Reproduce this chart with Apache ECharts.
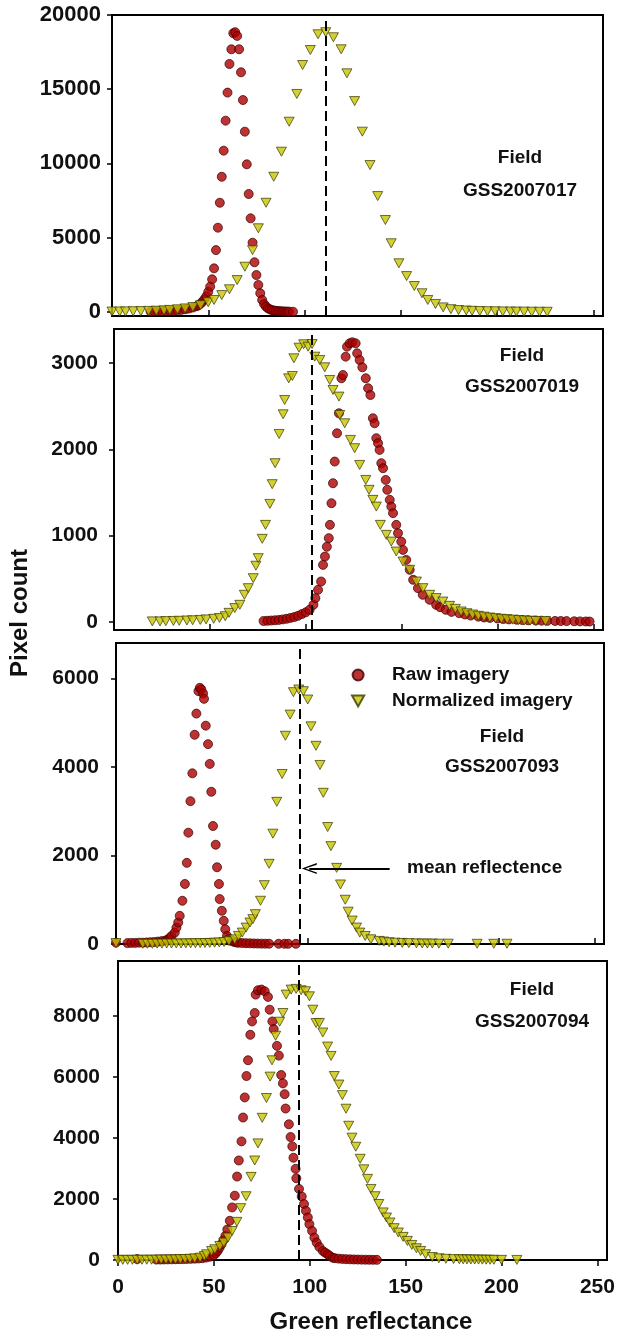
<!DOCTYPE html>
<html><head><meta charset="utf-8">
<script src="https://cdn.jsdelivr.net/npm/echarts@6/dist/echarts.min.js"></script>
<style>html,body{margin:0;padding:0;background:#fff}#c{width:617px;height:1336px}</style>
</head><body><div id="c"></div>
<script>
// ---------------- DATA ----------------
const fieldNames = ['GSS2007017', 'GSS2007019', 'GSS2007093', 'GSS2007094'];
const meanReflectance = [111.2, 103.2, 95.8, 94.2];
const yMins = [-280, -95, 0, 0];
const yMaxs = [20000, 3395, 6800, 9800];
const yTickValues = [[0, 5000, 10000, 15000, 20000], [0, 1000, 2000, 3000], [0, 2000, 4000, 6000], [0, 2000, 4000, 6000, 8000]];
const xTickValues = [0, 50, 100, 150, 200, 250];
const arrowY = 1705;
const arrowFromX = 143;
const arrowToX = 101;

const raw17 = [[20,30],[22,35],[24,40],[26,45],[28,55],[30,65],[32,80],[34,100],[36,130],[38,170],[40,220],[42,290],[44,380],[45,450],[46,550],[47,680],[48,850],[49,1050],[50,1350],[51,1700],[52,2190],[53,2930],[54,4160],[55,5670],[56,7350],[57,9100],[58,10860],[59,12880],[60,14770],[61,16700],[62,17690],[63,18770],[64,18840],[65,18590],[66,17690],[67,16140],[68,14270],[69,12140],[70,9940],[71,7940],[72,6300],[73,4660],[74,3340],[75,2480],[76,1810],[77,1250],[78,800],[79,520],[80,350],[81,240],[82,170],[83,120],[84,90],[85,70],[86,55],[87,45],[88,35],[89,28],[90,22],[91,16],[92,12],[94,8]];
const norm17 = [[0,20],[4,25],[7,30],[11,40],[15,50],[19,65],[23,80],[27,100],[30,130],[34,170],[38,230],[42,320],[46,450],[50,650],[53,800],[57,1130],[61,1520],[65,2140],[69,3040],[73,4160],[76,5630],[80,7350],[84,9100],[88,10790],[92,12810],[96,14680],[99,16630],[103,17640],[107,18700],[111,18840],[115,18500],[119,17690],[122,16070],[126,14200],[130,12140],[134,9890],[138,7800],[142,6190],[145,4620],[149,3270],[153,2410],[157,1740],[161,1250],[164,800],[168,530],[172,300],[176,180],[180,120],[184,90],[187,70],[191,55],[195,45],[199,35],[203,28],[207,22],[210,18],[214,14],[218,10],[222,8],[226,5]];

const raw19 = [[78,10],[80,12],[82,15],[84,18],[86,22],[88,28],[90,35],[92,45],[94,55],[96,70],[98,90],[100,110],[102,139],[104,197],[105,274],[106.4,371],[108,467],[109,660],[110,757],[111,870],[112,970],[112.6,1124],[113.4,1375],[114.2,1607],[115.1,1858],[116.3,2186],[117.3,2418],[118.6,2824],[119.4,2862],[120.8,3074],[121.5,3190],[122.9,3229],[124.3,3241],[126,3229],[126.8,3113],[128.1,3036],[129.5,2951],[131.3,2824],[132.5,2708],[133.7,2630],[135,2360],[135.9,2302],[136.8,2129],[137.7,2071],[138.5,1993],[139.4,1839],[140.3,1781],[141.7,1645],[142.5,1530],[143.8,1414],[144.6,1336],[145.5,1260],[147.2,1124],[148.1,1028],[149.8,930],[150.7,834],[152.4,718],[154.2,603],[156,487],[158.5,390],[161,313],[164.6,255],[168,197],[170,170],[173,139],[176,115],[180,100],[183,85],[186,72],[190,60],[193,50],[196,45],[200,38],[203,32],[206,28],[210,24],[213,20],[216,18],[220,15],[223,13],[226,11],[230,10],[233,9],[236,8],[240,6],[243,5],[246,4],[248,3]];
const norm19 = [[20,5],[24,5],[27,8],[31,10],[34,12],[38,15],[41,18],[45,22],[48,28],[52,35],[55,45],[58,65],[60,104],[63,159],[65.6,197],[68,313],[70,390],[72.6,506],[74,650],[75.2,738],[77.3,962],[79,1124],[81.3,1367],[82.5,1596],[84,1839],[86.1,2178],[88.2,2406],[89,2572],[91.1,2823],[93,2850],[93.8,3055],[96.5,3178],[98.9,3218],[101.2,3190],[103.3,3221],[104.7,3074],[107.3,3036],[109.9,2951],[112.5,2804],[114.2,2688],[117.3,2611],[117.7,2399],[120.3,2302],[123.3,2109],[125.5,2013],[128.1,1819],[131.3,1645],[133,1530],[135,1414],[136.8,1336],[138.9,1124],[142,1008],[144.6,930],[147.2,815],[150.7,699],[154.2,603],[157.7,467],[161.1,390],[164.6,313],[168,275],[171.5,235],[175,185],[178,150],[181,120],[184,100],[187,85],[190,70],[193,60],[196,50],[199,42],[202,35],[205,30],[208,25],[211,20],[214,16],[217,13],[220,10],[225,8]];

const raw93 = [[0,30],[6,20],[8,25],[10,25],[12,30],[14,30],[16,35],[18,40],[20,45],[22,55],[24,65],[26,80],[27,100],[28,130],[29,180],[30.7,258],[31.6,371],[32.5,485],[33.3,636],[34.7,977],[36,1356],[37,1833],[37.8,2515],[38.9,3227],[39.9,3856],[41.1,4727],[42,5205],[43.1,5712],[43.8,5788],[44.6,5750],[45.5,5659],[46,5538],[46.9,4932],[48.1,4515],[49,4068],[49.8,3439],[50.7,2666],[52.1,2243],[52.8,1734],[53.8,1356],[54.2,1015],[55.3,750],[56.3,523],[57.1,333],[58,182],[59,120],[60,80],[61,60],[62,45],[63,35],[64,28],[66,22],[68,18],[70,15],[72,12],[74,10],[76,8],[78,7],[80,6],[85,5],[88,5],[90,4],[94,4]];
const norm93 = [[0,20],[14,5],[16.5,5],[19,5],[21.5,8],[24,8],[26.5,10],[29,10],[31.5,12],[34,12],[36.5,15],[39,15],[41.5,18],[44,20],[46.5,22],[49,25],[51.5,30],[54,35],[56.5,45],[59,65],[62,106],[64,182],[66,258],[68,371],[70,485],[71.5,561],[72.8,674],[75.5,977],[77.5,1330],[80,1811],[82,2492],[84,3212],[86.8,3841],[88.5,4705],[91,5182],[92.7,5689],[95.5,5750],[97.9,5712],[100.2,5523],[101.9,4917],[104.5,4477],[106.6,4045],[108.3,3416],[110.6,2643],[112.3,2211],[115.3,1720],[117.3,1345],[119.8,1000],[121.3,730],[123.4,530],[125.7,371],[127.4,258],[130.2,182],[133.2,106],[137.5,70],[140,55],[142.7,40],[145.8,30],[149.6,25],[153,20],[157,15],[160,12],[162.7,10],[165.3,10],[168.7,8],[173.6,8],[188.7,5],[197.4,5],[204.3,5]];

const raw94 = [[10,30],[20,15],[22,15],[24,18],[26,20],[28,22],[30,25],[32,28],[34,30],[36,35],[38,40],[40,45],[42,50],[44,60],[46,80],[48,110],[50,160],[51,220],[52,300],[53,405],[54,520],[55,650],[56,790],[57,1000],[58.3,1285],[59.5,1723],[60.9,2109],[62.1,2735],[63,3262],[64.4,3888],[65.2,4669],[66.1,5328],[67,6030],[67.8,6547],[69,7381],[69.9,7820],[71.3,8095],[71.8,8698],[73,8841],[74.8,8863],[76.5,8808],[78.2,8623],[79.1,8204],[80.5,7820],[81.2,7568],[82.9,7018],[83.9,6699],[85.1,6063],[86,5789],[86.9,5436],[87.4,4965],[89.1,4448],[90,4030],[90.9,3723],[91.5,3351],[92.6,2988],[93,2679],[94.4,2329],[95.8,2080],[97,1835],[98,1614],[99,1394],[99.8,1176],[101.2,955],[102.4,735],[103.6,570],[105,428],[106.8,297],[108,240],[109.3,188],[110.5,130],[111.9,76],[113,60],[115,45],[117,35],[119,28],[121,22],[123,18],[125,15],[127,12],[129,10],[131,8],[133,6],[135,5]];
const norm94 = [[0,5],[2.5,5],[5,6],[7.5,6],[10,8],[12.5,8],[15,10],[17.5,10],[20,12],[22.5,14],[25,16],[27.5,18],[30,22],[32.5,26],[35,32],[37.5,40],[40,52],[42.8,76],[45,130],[46.2,188],[48.8,297],[50.5,352],[53.1,461],[55.2,570],[57.4,735],[59.5,950],[62,1250],[64,1700],[66.8,2090],[69.4,2725],[71.3,3262],[73,3822],[75.2,4660],[77.4,5310],[79.3,6010],[80.3,6545],[82.2,7348],[84.3,7810],[86,8095],[87.7,8698],[90.3,8863],[92.9,8886],[95.5,8841],[97.8,8808],[99.8,8643],[101.6,8204],[103.3,7766],[105,7770],[106.8,7457],[109.3,6996],[111.1,6689],[112.8,6030],[115.2,5750],[117,5404],[118.9,4958],[120.3,4400],[122,4010],[124,3712],[126.3,3318],[128.2,2972],[130.1,2659],[131.9,2329],[134.1,2090],[136,1835],[138.3,1559],[140,1394],[141.8,1229],[144,1044],[146.2,900],[148.7,758],[150.9,626],[153.2,494],[155.6,385],[157.8,297],[160.4,188],[163.9,99],[167.3,56],[171,40],[175,30],[178,25],[180,22],[182,20],[184,18],[186,16],[188,14],[190,12],[192,10],[194,8],[196,7],[200,5],[208,3]];

const rawSeries = [raw17, raw19, raw93, raw94];
const normSeries = [norm17, norm19, norm93, norm94];

// ---------------- LAYOUT / STYLE ----------------
const FONT = '"Liberation Sans", Arial, sans-serif';
const TXT = '#111111';
const TRI = 'path://M0,0L10,0L5,9Z';
const CHEVRON = 'path://M5.5,0L11,15L9.4,15L5.5,3.6L1.6,15L0,15Z';
const grids = [
  { left: 112, top: 15, width: 491, height: 301 },
  { left: 114, top: 329, width: 489, height: 301 },
  { left: 116, top: 643, width: 488, height: 301 },
  { left: 118, top: 961, width: 489, height: 299 }
];
const yLabelSize = [22, 21, 21, 21];
const yLabelMargin = [11, 16, 17, 18];

const rawStyle = { color: '#ad0000', borderColor: '#3a0000', borderWidth: 0.9 };
const normStyle = { color: '#c8c400', borderColor: '#383800', borderWidth: 0.9 };

const option = {
  animation: false,
  backgroundColor: '#ffffff',
  grid: grids.map(g => Object.assign({ show: true, borderColor: '#000', borderWidth: 2, outerBoundsMode: 'none', containLabel: false }, g)),
  xAxis: grids.map((g, i) => ({
    gridIndex: i, type: 'value', min: 0, max: 255,
    axisLine: { show: true, onZero: false, lineStyle: { color: '#000', width: 2 } },
    axisTick: { show: true, inside: i < 3, length: 6, customValues: xTickValues, lineStyle: { color: '#000', width: 1.5 } },
    axisLabel: { show: i === 3, customValues: xTickValues, formatter: v => String(v), margin: 17, fontFamily: FONT, fontWeight: 'bold', fontSize: 21, color: TXT },
    splitLine: { show: false }
  })),
  yAxis: grids.map((g, i) => ({
    gridIndex: i, type: 'value', min: yMins[i], max: yMaxs[i],
    axisLine: { show: true, onZero: false, lineStyle: { color: '#000', width: 2 } },
    axisTick: { show: true, inside: false, length: 5, customValues: yTickValues[i], lineStyle: { color: '#000', width: 1.5 } },
    axisLabel: { customValues: yTickValues[i], formatter: v => String(v), margin: yLabelMargin[i], fontFamily: FONT, fontWeight: 'bold', fontSize: yLabelSize[i], color: TXT },
    splitLine: { show: false }
  })),
  legend: {
    orient: 'vertical', left: 346, top: 660, itemWidth: 58, itemHeight: 11, itemGap: 6,
    symbolKeepAspect: true, selectedMode: false,
    data: [{ name: 'Raw imagery', icon: 'circle' }, { name: 'Normalized imagery', icon: TRI }],
    textStyle: { fontFamily: FONT, fontWeight: 'bold', fontSize: 19, color: TXT, lineHeight: 20 }
  },
  series: [],
  graphic: []
};

rawSeries.forEach((data, i) => {
  const s = {
    name: 'Raw imagery', type: 'scatter', xAxisIndex: i, yAxisIndex: i,
    symbol: 'circle', symbolSize: 9, itemStyle: rawStyle, data: data, z: 2,
    markLine: {
      silent: true, symbol: 'none', label: { show: false },
      lineStyle: { color: '#000', type: [10, 5], width: 2 },
      data: [{ xAxis: meanReflectance[i] }]
    }
  };
  if (i === 2) {
    s.markLine.data.push([
      { coord: [arrowFromX, arrowY], symbol: 'none', lineStyle: { type: 'solid', width: 2 } },
      { coord: [arrowToX, arrowY], symbol: CHEVRON, symbolSize: [11, 15] }
    ]);
  }
  option.series.push(s);
});
normSeries.forEach((data, i) => {
  option.series.push({
    name: 'Normalized imagery', type: 'scatter', xAxisIndex: i, yAxisIndex: i,
    symbol: TRI, symbolSize: [10, 9], itemStyle: normStyle, data: data, z: 3
  });
});

// annotations
const fieldPos = [[520, 158, 191], [522, 356, 387], [502, 737, 767], [532, 990, 1022]];
fieldNames.forEach((f, i) => {
  const p = fieldPos[i];
  option.graphic.push({ type: 'text', x: p[0], y: p[1], style: { text: 'Field', fill: TXT, font: 'bold 19px ' + FONT, textAlign: 'center', textVerticalAlign: 'middle' } });
  option.graphic.push({ type: 'text', x: p[0], y: p[2], style: { text: f, fill: TXT, font: 'bold 19px ' + FONT, textAlign: 'center', textVerticalAlign: 'middle' } });
});
option.graphic.push({ type: 'text', x: 407, y: 868, style: { text: 'mean reflectence', fill: TXT, font: 'bold 19px ' + FONT, textAlign: 'left', textVerticalAlign: 'middle' } });
option.graphic.push({ type: 'text', x: 371, y: 1322, style: { text: 'Green reflectance', fill: TXT, font: 'bold 24px ' + FONT, textAlign: 'center', textVerticalAlign: 'middle' } });
option.graphic.push({ type: 'text', x: 20, y: 613, rotation: Math.PI / 2, style: { text: 'Pixel count', fill: TXT, font: 'bold 24px ' + FONT, textAlign: 'center', textVerticalAlign: 'middle' } });

const chart = echarts.init(document.getElementById('c'), null, { renderer: 'canvas' });
chart.setOption(option);
</script>
</body></html>
